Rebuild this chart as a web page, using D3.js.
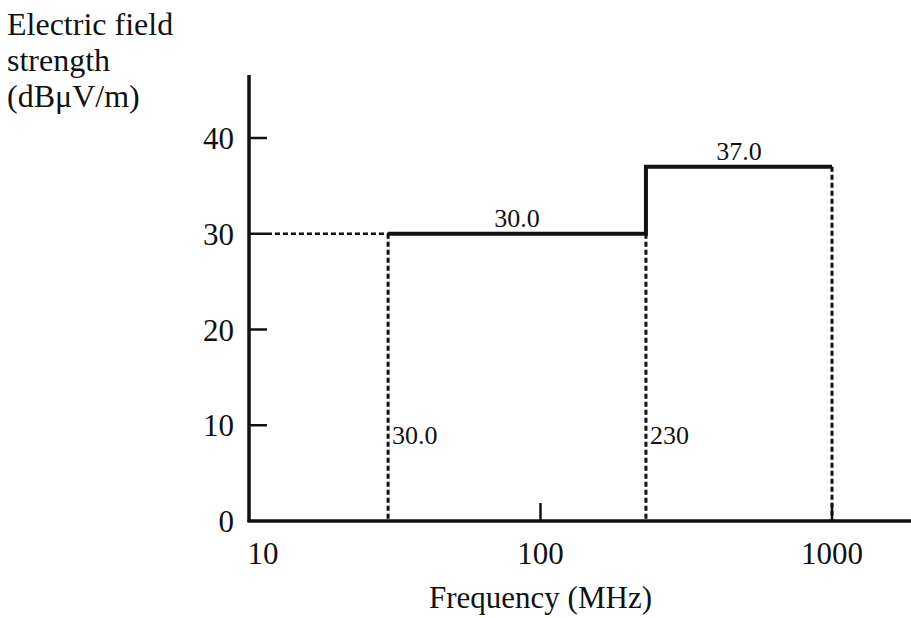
<!DOCTYPE html>
<html>
<head>
<meta charset="utf-8">
<script src="https://cdn.jsdelivr.net/npm/d3@7"></script>
<style>
  body { margin: 0; background: #fff; }
  svg text { font-family: "Liberation Serif", "DejaVu Serif", serif; fill: #111; }
</style>
</head>
<body>
<div id="chart"></div>
<script>
// limit steps: frequency band edges (MHz) and field strength limit (dBµV/m)
const bandEdges = [30, 230, 1000];
const bandLimits = [30.0, 37.0];
const edgeLabels = ["30.0", "230"];
const limitLabels = ["30.0", "37.0"];
const yTicks = [0, 10, 20, 30, 40];
const xTicks = [10, 100, 1000];

const width = 911;
const height = 618;

const svg = d3.select("#chart").append("svg")
    .attr("width", width)
    .attr("height", height);

const x = d3.scaleLog().domain([10, 1000]).range([249, 832]);
const y = d3.scaleLinear().domain([0, 40]).range([521, 138]);

const ink = "#111";

// axes lines
svg.append("line")
    .attr("x1", x(10) - 1.5).attr("x2", width)
    .attr("y1", y(0)).attr("y2", y(0))
    .attr("stroke", ink).attr("stroke-width", 3.5);
svg.append("line")
    .attr("x1", x(10)).attr("x2", x(10))
    .attr("y1", y(0) + 1).attr("y2", 75)
    .attr("stroke", ink).attr("stroke-width", 3.5);

// y ticks point inward
svg.selectAll(".ytick")
    .data(yTicks.filter(d => d > 0))
    .join("line")
    .attr("x1", x(10)).attr("x2", x(10) + 18)
    .attr("y1", d => y(d)).attr("y2", d => y(d))
    .attr("stroke", ink).attr("stroke-width", 2.5);

svg.selectAll(".ylab")
    .data(yTicks)
    .join("text")
    .attr("x", x(10) - 15)
    .attr("y", d => y(d) + 11)
    .attr("text-anchor", "end")
    .attr("font-size", 31)
    .text(d => d);

// x ticks point upward
svg.selectAll(".xtick")
    .data(xTicks.filter(d => d > 10))
    .join("line")
    .attr("x1", d => x(d)).attr("x2", d => x(d))
    .attr("y1", y(0)).attr("y2", y(0) - 18)
    .attr("stroke", ink).attr("stroke-width", 2.5);

// "10" is nudged right so it clears the y axis "0"
svg.selectAll(".xlab")
    .data(xTicks)
    .join("text")
    .attr("x", d => d === 10 ? x(d) + 14 : x(d))
    .attr("y", y(0) + 43)
    .attr("text-anchor", "middle")
    .attr("font-size", 31)
    .text(d => d);

// dotted guides
const dotted = "5,3";
svg.append("line")
    .attr("x1", x(10) + 18).attr("x2", x(bandEdges[0]))
    .attr("y1", y(bandLimits[0])).attr("y2", y(bandLimits[0]))
    .attr("stroke", ink).attr("stroke-width", 2.5)
    .attr("stroke-dasharray", dotted);

// each edge drops from the limit on its left (first edge: its own band)
svg.selectAll(".guide")
    .data(bandEdges)
    .join("line")
    .attr("x1", d => x(d)).attr("x2", d => x(d))
    .attr("y1", (d, i) => y(bandLimits[Math.max(0, i - 1)]))
    .attr("y2", y(0))
    .attr("stroke", ink).attr("stroke-width", 3)
    .attr("stroke-dasharray", dotted);

// limit line as a step
const steps = [];
bandLimits.forEach((v, i) => {
    steps.push([bandEdges[i], v]);
    steps.push([bandEdges[i + 1], v]);
});
const line = d3.line().x(d => x(d[0])).y(d => y(d[1]));
svg.append("path")
    .attr("d", line(steps))
    .attr("fill", "none")
    .attr("stroke", ink)
    .attr("stroke-width", 4);

// limit values above each step
svg.selectAll(".limlab")
    .data(bandLimits)
    .join("text")
    .attr("x", (d, i) => (x(bandEdges[i]) + x(bandEdges[i + 1])) / 2)
    .attr("y", d => y(d) - 7)
    .attr("text-anchor", "middle")
    .attr("font-size", 26)
    .text((d, i) => limitLabels[i]);

// band edge labels beside the guides
svg.selectAll(".edgelab")
    .data(edgeLabels)
    .join("text")
    .attr("x", (d, i) => x(bandEdges[i]) + 4)
    .attr("y", y(10) + 19)
    .attr("font-size", 26)
    .text(d => d);

// axis titles
svg.append("text")
    .attr("x", x(100))
    .attr("y", 608)
    .attr("text-anchor", "middle")
    .attr("font-size", 31)
    .text("Frequency (MHz)");

const yTitle = svg.append("text")
    .attr("x", 7)
    .attr("y", 35)
    .attr("font-size", 32);
["Electric field", "strength", "(dBμV/m)"].forEach((t, i) => {
    yTitle.append("tspan").attr("x", 7).attr("dy", i === 0 ? 0 : 36).text(t);
});
</script>
</body>
</html>
